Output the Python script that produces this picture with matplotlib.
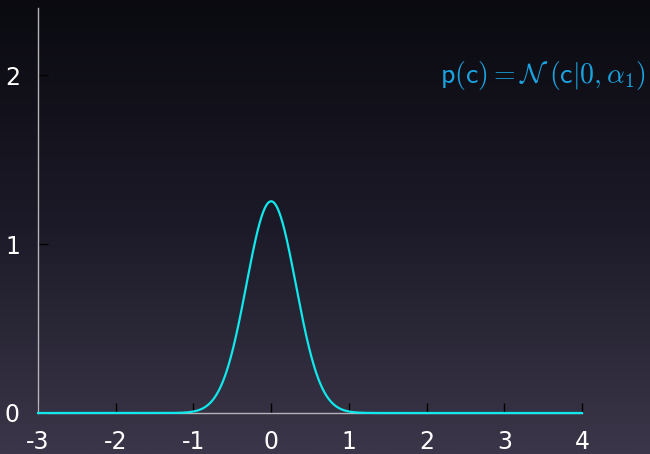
import numpy as np
import matplotlib
matplotlib.use("Agg")
import matplotlib.pyplot as plt
from matplotlib.colors import LinearSegmentedColormap

# Prior over c: zero-mean normal with precision-derived spread
mean_c = 0.0
std_c = 0.318
x_range = (-3.0, 4.0)
x_ticks = [-3, -2, -1, 0, 1, 2, 3, 4]
x_tick_labels = ["-3", "-2", "-1", "0", "1", "2", "3", "4"]
y_ticks = [0, 1, 2]
y_tick_labels = ["0", "1", "2"]
y_top = 2.4

plt.rcParams["mathtext.fontset"] = "cm"

fig = plt.figure(figsize=(6.5, 4.54), dpi=100)

# Dark vertical gradient backdrop
bg = fig.add_axes([0, 0, 1, 1], zorder=-10)
grad = np.linspace(0, 1, 256).reshape(-1, 1)
cmap = LinearSegmentedColormap.from_list("bg", ["#0a0a10", "#1c1a28", "#3b3649"])
bg.imshow(grad, aspect="auto", cmap=cmap, extent=[0, 1, 0, 1], origin="upper")
bg.set_axis_off()

ax = fig.add_axes([38 / 650, 1 - 413 / 454, (582 - 38) / 650, (413 - 8) / 454])
ax.patch.set_alpha(0)

xs = np.linspace(x_range[0], x_range[1], 1400)
pdf = np.exp(-0.5 * ((xs - mean_c) / std_c) ** 2) / (std_c * np.sqrt(2 * np.pi))
ax.plot(xs, pdf, color="#10e8ec", lw=1.6, clip_on=False, zorder=5)

ax.set_xlim(*x_range)
ax.set_ylim(0, y_top)

for side in ("top", "right"):
    ax.spines[side].set_visible(False)
for side in ("left", "bottom"):
    ax.spines[side].set_color("#b4b4b8")
    ax.spines[side].set_linewidth(1.0)

ax.set_xticks(x_ticks)
ax.set_xticklabels(x_tick_labels)
ax.set_yticks(y_ticks)
ax.set_yticklabels(y_tick_labels)
ax.tick_params(axis="both", direction="in", length=7, width=1.0, color="black",
               labelcolor="white", labelsize=17)
ax.tick_params(axis="x", pad=12)
ax.tick_params(axis="y", pad=13)

ax.text(1.118, 2.0,
        r"$\mathsf{p}(\mathsf{c}) = \mathcal{N}\;(\mathsf{c}|\mathsf{0},\alpha_{\mathsf{1}})$",
        transform=ax.get_yaxis_transform(), ha="right", va="center",
        color="#1aa3e0", fontsize=20, clip_on=False)

fig.savefig("out.png", dpi=100)
